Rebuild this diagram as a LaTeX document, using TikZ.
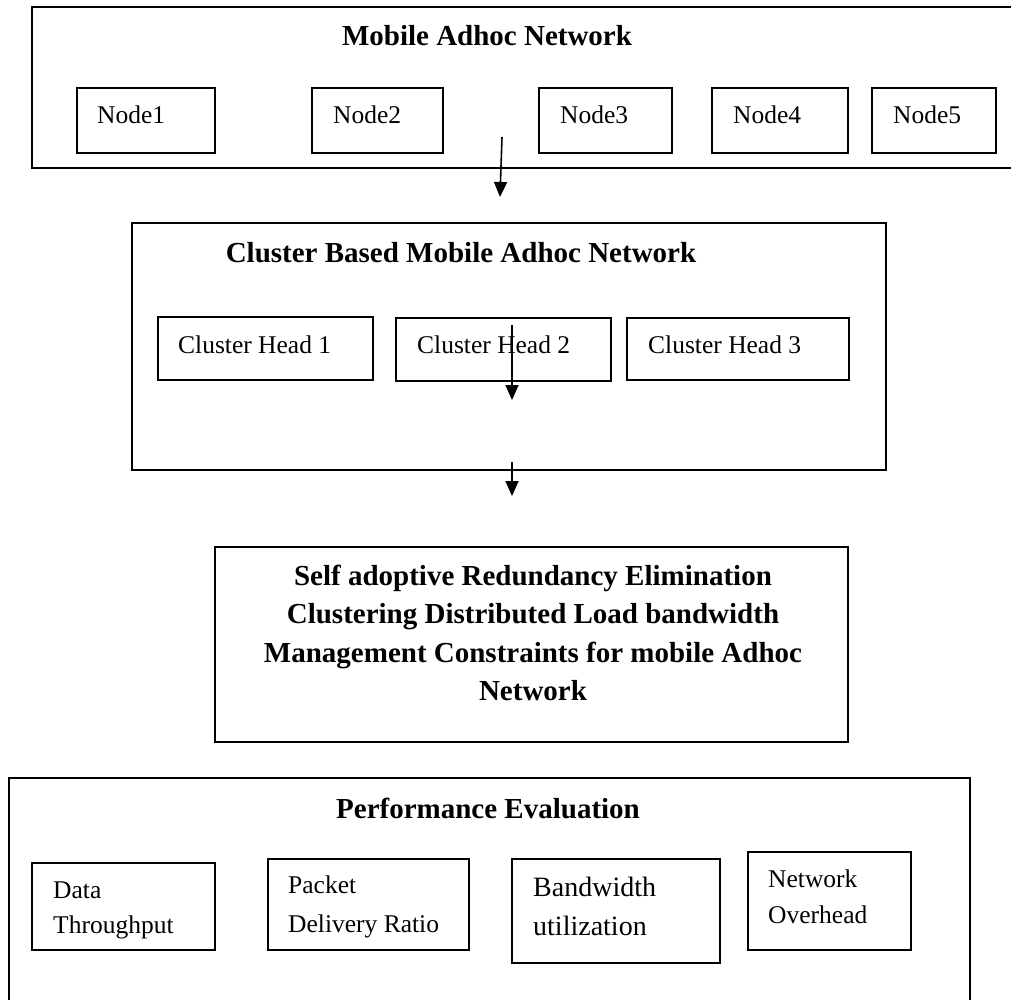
\documentclass[tikz,border=0pt]{standalone}
\usepackage{fontspec}
\setmainfont{Liberation Serif}
\usetikzlibrary{arrows.meta}
\begin{document}
\begin{tikzpicture}[x=1pt,y=-1pt,
  box/.style={draw, line width=1.8pt, inner sep=0pt, outer sep=0pt, anchor=north west},
  lbl/.style={anchor=base west, inner sep=0pt, font=\fontsize{25.5}{30}\selectfont},
  lblbig/.style={anchor=base west, inner sep=0pt, font=\fontsize{28}{33}\selectfont},
  ttl/.style={anchor=base, inner sep=0pt, font=\bfseries\fontsize{29}{34}\selectfont},
  arr/.style={line width=1.6pt, -{Triangle[length=15pt,width=13pt]}}]
\useasboundingbox (0,0) rectangle (1011,1000);
\clip (0,0) rectangle (1011,1000);

% Mobile Adhoc Network
\node[box, minimum width=1000pt, minimum height=161pt] (manet) at (32,7) {};
\node[ttl] (manet-t) at (487,46) {Mobile Adhoc Network};
\node[box, minimum width=138pt, minimum height=65pt] (n1) at (77,88) {};
\node[box, minimum width=131pt, minimum height=65pt] (n2) at (312,88) {};
\node[box, minimum width=133pt, minimum height=65pt] (n3) at (539,88) {};
\node[box, minimum width=136pt, minimum height=65pt] (n4) at (712,88) {};
\node[box, minimum width=124pt, minimum height=65pt] (n5) at (872,88) {};
\node[lbl] (n1-t) at (97,124) {Node1};
\node[lbl] (n2-t) at (333,124) {Node2};
\node[lbl] (n3-t) at (560,124) {Node3};
\node[lbl] (n4-t) at (733,124) {Node4};
\node[lbl] (n5-t) at (893,124) {Node5};

% Cluster Based Mobile Adhoc Network
\node[box, minimum width=754pt, minimum height=247pt] (cbm) at (132,223) {};
\node[ttl] (cbm-t) at (461,262) {Cluster Based Mobile Adhoc Network};
\node[box, minimum width=215pt, minimum height=63pt] (ch1) at (158,317) {};
\node[box, minimum width=215pt, minimum height=63pt] (ch2) at (396,318) {};
\node[box, minimum width=222pt, minimum height=62pt] (ch3) at (627,318) {};
\node[lbl] (ch1-t) at (178,353) {Cluster Head 1};
\node[lbl] (ch2-t) at (417,353) {Cluster Head 2};
\node[lbl] (ch3-t) at (648,353) {Cluster Head 3};

% Self adoptive ...
\node[box, minimum width=633pt, minimum height=195pt] (sar) at (215,547) {};
\node[ttl] (sar-1) at (533,585) {Self adoptive Redundancy Elimination};
\node[ttl] (sar-2) at (533,623) {Clustering Distributed Load bandwidth};
\node[ttl] (sar-3) at (533,662) {Management Constraints for mobile Adhoc};
\node[ttl] (sar-4) at (533,700) {Network};

% Performance Evaluation
\node[box, minimum width=961pt, minimum height=300pt] (pe) at (9,778) {};
\node[ttl] (pe-t) at (488,818) {Performance Evaluation};
\node[box, minimum width=183pt, minimum height=87pt] (dt) at (32,863) {};
\node[box, minimum width=201pt, minimum height=91pt] (pdr) at (268,859) {};
\node[box, minimum width=208pt, minimum height=104pt] (bu) at (512,859) {};
\node[box, minimum width=163pt, minimum height=98pt] (no) at (748,852) {};
\node[lbl] (dt-1) at (53,898) {Data};
\node[lbl] (dt-2) at (53,933) {Throughput};
\node[lbl] (pdr-1) at (288,893) {Packet};
\node[lbl] (pdr-2) at (288,932) {Delivery Ratio};
\node[lblbig] (bu-1) at (533,896) {Bandwidth};
\node[lblbig] (bu-2) at (533,935) {utilization};
\node[lbl] (no-1) at (768,887) {Network};
\node[lbl] (no-2) at (768,923) {Overhead};

% arrows
\coordinate (a1s) at (502,137);
\coordinate (a1e) at (500,197);
\coordinate (a2s) at (512,325);
\coordinate (a2e) at (512,400);
\coordinate (a3s) at (512,462);
\coordinate (a3e) at (512,496);
\draw[arr] (a1s) -- (a1e);
\draw[arr] (a2s) -- (a2e);
\draw[arr] (a3s) -- (a3e);
\end{tikzpicture}
\end{document}
